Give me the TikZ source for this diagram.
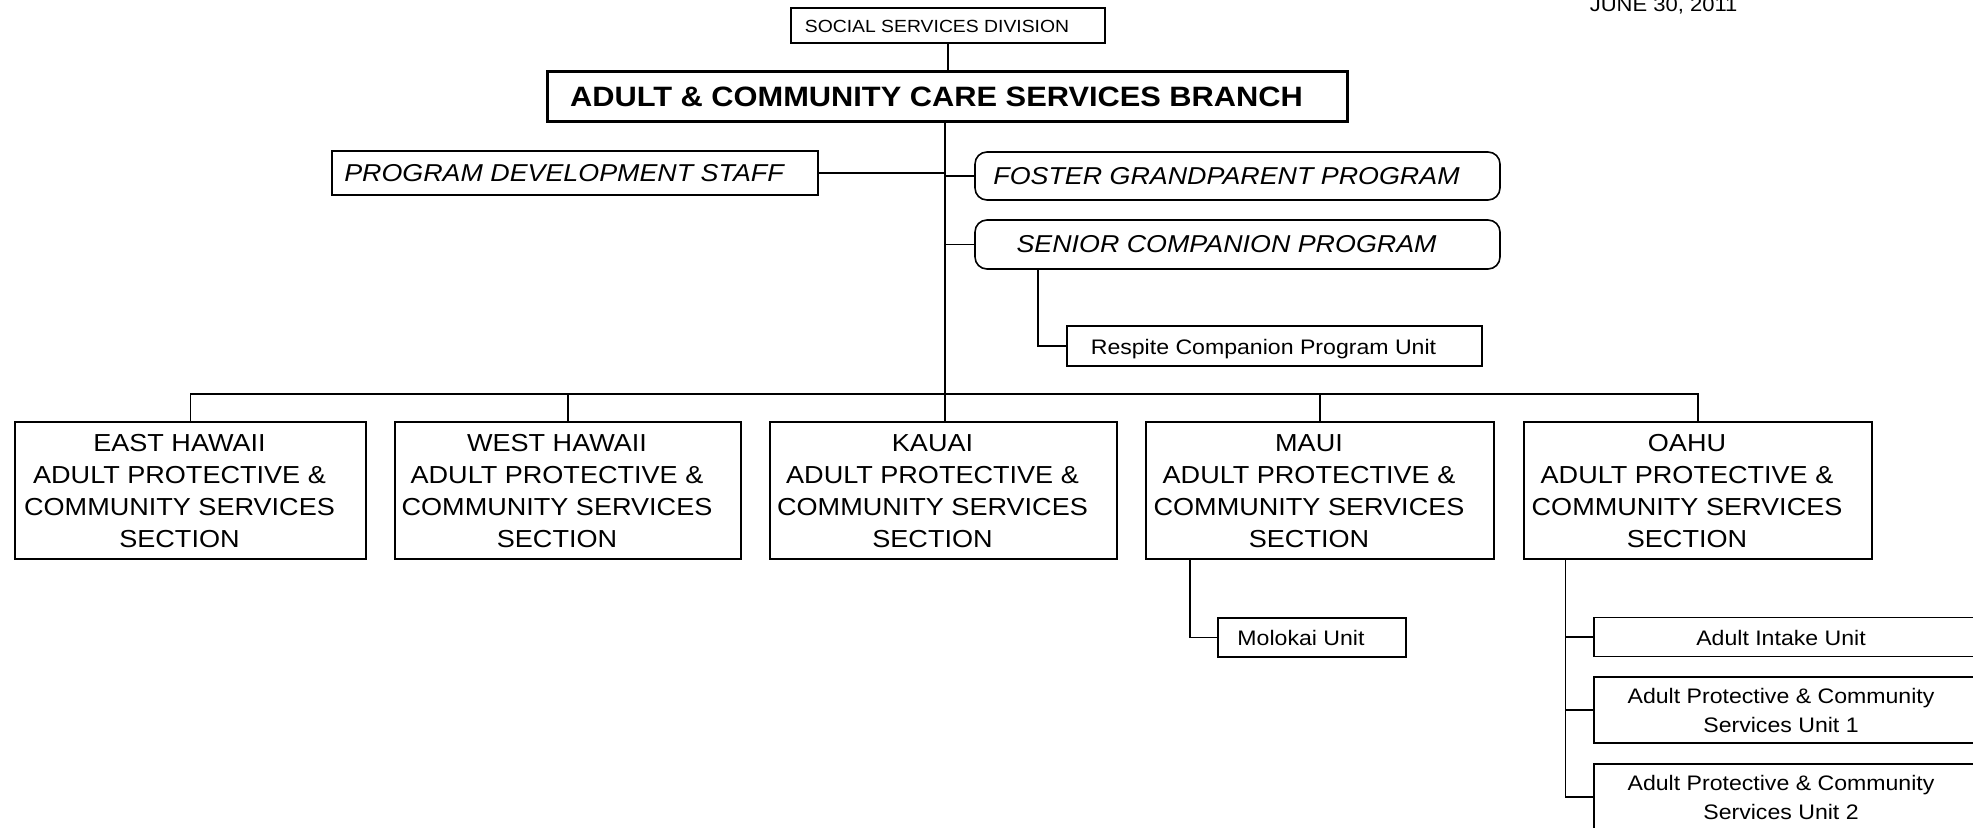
\documentclass[tikz,border=0pt]{standalone}
\usepackage{fontspec}
\setmainfont{Liberation Sans}[FakeStretch=1.1]
\newcommand\fsec{\fontsize{12.3}{15.9}\selectfont}
\newcommand\fsmall{\fontsize{10.5}{14.5}\selectfont}
\newcommand\fital{\fontsize{12.2}{14}\selectfont\itshape}
\newcommand\fbig{\fontsize{14}{17}\selectfont\bfseries}
\newcommand\fssd{\fontsize{8.8}{10}\selectfont}
\newcommand\fdate{\fontsize{10}{12}\selectfont}
\newcommand\lft[1]{\raisebox{-1.3pt}[\height][\depth]{\begin{tabular}{@{}c@{}}#1\end{tabular}}\hspace*{11pt}}
\begin{document}
\begin{tikzpicture}[x=0.5pt,y=-0.5pt,line width=0.8pt,
  box/.style={draw,rectangle,inner sep=0pt},
  sz/.style 2 args={minimum width=#1*0.5pt,minimum height=#2*0.5pt},
  secbox/.style={box,sz={#1}{137},font=\fsec},
  rbox/.style={box,rounded corners=6pt,font=\fital},
  unitbox/.style={box,font=\fsmall}]
\clip (0,0) rectangle (1973,828);
\fill[white] (0,0) rectangle (1973,828);
% top
\node[anchor=base west,font=\fdate,inner sep=0pt] (date) at (1589,12) {JUNE 30, 2011};
\node[box,sz={314}{35},font=\fssd] (ssd) at (948,25.5) {\lft{SOCIAL SERVICES DIVISION}};
\node[box,sz={800}{50},font=\fbig,line width=1.5pt] (branch) at (947.5,97) {\lft{ADULT \& COMMUNITY CARE SERVICES BRANCH}};
\node[box,sz={486}{44},font=\fital] (pds) at (575,173) {\lft{PROGRAM DEVELOPMENT STAFF}};
\node[rbox,sz={525}{48}] (fgp) at (1237.5,176) {\lft{FOSTER GRANDPARENT PROGRAM}};
\node[rbox,sz={525}{49}] (scp) at (1237.5,244.5) {\lft{SENIOR COMPANION PROGRAM}};
\node[unitbox,sz={415}{40}] (respite) at (1274.5,346) {\lft{Respite Companion Program Unit}};
% sections
\node[secbox=351] (east) at (190.5,490.5) {\lft{EAST HAWAII\\ADULT PROTECTIVE \&\\COMMUNITY SERVICES\\SECTION}};
\node[secbox=346] (west) at (568,490.5) {\lft{WEST HAWAII\\ADULT PROTECTIVE \&\\COMMUNITY SERVICES\\SECTION}};
\node[secbox=347] (kauai) at (943.5,490.5) {\lft{KAUAI\\ADULT PROTECTIVE \&\\COMMUNITY SERVICES\\SECTION}};
\node[secbox=348] (maui) at (1320,490.5) {\lft{MAUI\\ADULT PROTECTIVE \&\\COMMUNITY SERVICES\\SECTION}};
\node[secbox=348] (oahu) at (1698,490.5) {\lft{OAHU\\ADULT PROTECTIVE \&\\COMMUNITY SERVICES\\SECTION}};
% units
\node[unitbox,sz={188}{39}] (molokai) at (1312,637.5) {\lft{Molokai Unit}};
\node[unitbox,sz={396}{39}] (intake) at (1792,637) {\lft{Adult Intake Unit}};
\node[unitbox,sz={396}{66}] (unit1) at (1792,710) {\lft{Adult Protective \& Community\\Services Unit 1}};
\node[unitbox,sz={396}{66}] (unit2) at (1792,797) {\lft{Adult Protective \& Community\\Services Unit 2}};
% helper coordinates
\coordinate (tb) at (945,394);
\coordinate (sr) at (1038,0);
\coordinate (mx) at (1190,0);
\coordinate (ox) at (1565.5,0);
% connectors
\draw (ssd.south) -- (ssd.south |- branch.north);
\draw (branch.south -| tb) -- (tb);
\draw (pds.east) -- (pds.east -| tb);
\draw (fgp.west) -- (fgp.west -| tb);
\draw (scp.west) -- (scp.west -| tb);
\draw (scp.south -| sr) |- (respite.west);
\draw (east.north) -- (east.north |- tb) -- (oahu.north |- tb) -- (oahu.north);
\draw (west.north |- tb) -- (west.north);
\draw (tb) -- (tb |- kauai.north);
\draw (maui.north |- tb) -- (maui.north);
\draw (maui.south -| mx) |- (molokai.west);
\draw (oahu.south -| ox) |- (unit2.west);
\draw (intake.west) -- (intake.west -| ox);
\draw (unit1.west) -- (unit1.west -| ox);
\end{tikzpicture}
\end{document}
